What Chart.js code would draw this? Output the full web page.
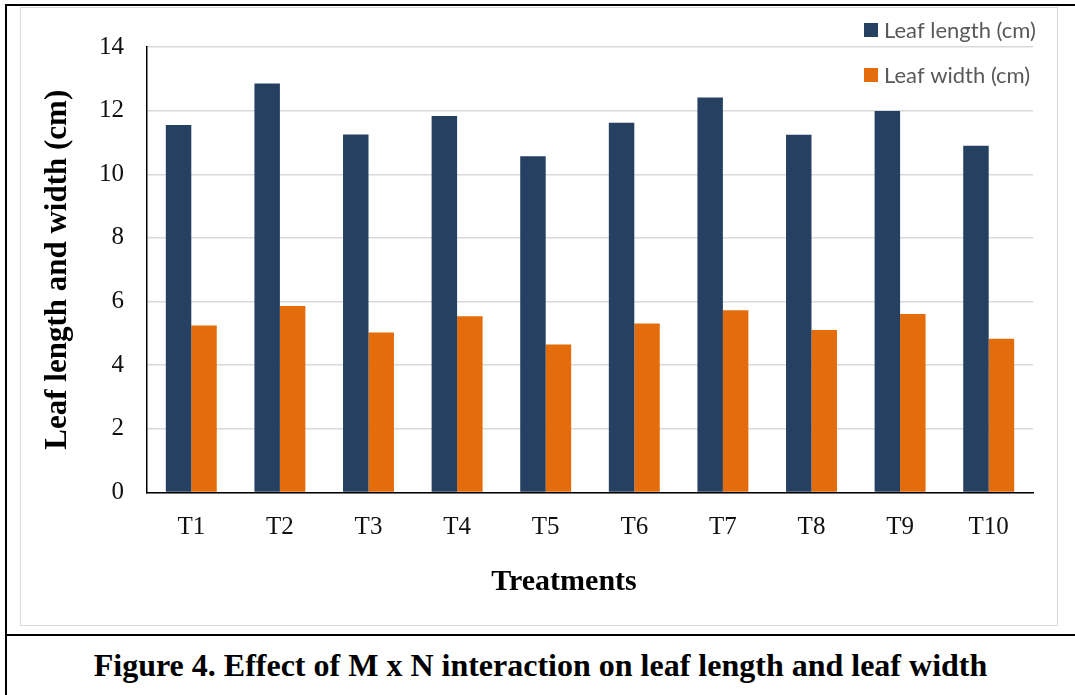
<!DOCTYPE html>
<html>
<head>
<meta charset="utf-8">
<script src="https://cdn.jsdelivr.net/npm/chart.js@4.4.1/dist/chart.umd.min.js"></script>
<style>
  html, body { margin: 0; padding: 0; background: #fff; }
  body { width: 1075px; height: 695px; position: relative; overflow: hidden; }
  #frame { position: absolute; left: 5px; top: 4px; width: 1080px; height: 720px;
           border-left: 2px solid #000; border-top: 2px solid #000; box-sizing: border-box; }
  #sep { position: absolute; left: 5px; top: 634px; width: 1080px; height: 0;
         border-top: 2px solid #000; }
  #box { position: absolute; left: 20px; top: 7px; width: 1038px; height: 619px;
         border: 1.5px solid #d9d9d9; box-sizing: border-box; }
  #wrap { position: absolute; left: 20px; top: 7px; width: 1038px; height: 619px; }
  #caption { position: absolute; left: 6px; width: 1069px; top: 636px; height: 59px;
             display: flex; align-items: center; justify-content: center;
             font: bold 32px "Liberation Serif", "Times New Roman", serif; color: #000; }
</style>
</head>
<body>
<div id="frame"></div>
<div id="box"></div>
<div id="wrap"><canvas id="c" width="1038" height="619"></canvas></div>
<div id="sep"></div>
<div id="caption">Figure 4. Effect of M x N interaction on leaf length and leaf width</div>
<script>
// Treatments on the x axis
const categories = ['T1', 'T2', 'T3', 'T4', 'T5', 'T6', 'T7', 'T8', 'T9', 'T10'];
// Mean leaf length and width per treatment (cm)
const leafLength = [11.55, 12.85, 11.25, 11.83, 10.57, 11.62, 12.41, 11.24, 11.99, 10.90];
const leafWidth = [5.25, 5.86, 5.03, 5.54, 4.65, 5.31, 5.73, 5.11, 5.61, 4.83];
const seriesNames = ['Leaf length (cm)', 'Leaf width (cm)'];
const yTicks = [0, 2, 4, 6, 8, 10, 12, 14];
const xTitle = 'Treatments';
const yTitle = 'Leaf length and width (cm)';

const serif = '"Liberation Serif", "Times New Roman", serif';

// Legend stacked in the top-right corner, drawn over the plot,
// plus the x-axis title placed under the tick labels
const annotations = {
  id: 'annotations',
  afterDraw(chart) {
    const ctx = chart.ctx;
    ctx.save();
    ctx.font = '22px Lato, "Open Sans", sans-serif';
    ctx.textBaseline = 'middle';
    ctx.textAlign = 'left';
    chart.data.datasets.forEach((ds, i) => {
      const y = 23 + i * 45;
      ctx.fillStyle = ds.backgroundColor;
      ctx.fillRect(844, y - 7, 14, 14);
      ctx.fillStyle = '#595959';
      ctx.fillText(ds.label, 864, y + 1);
    });
    ctx.font = 'bold 30px ' + serif;
    ctx.fillStyle = '#000';
    ctx.textAlign = 'center';
    ctx.fillText(xTitle, 544, 575);
    ctx.restore();
  }
};

new Chart(document.getElementById('c'), {
  type: 'bar',
  data: {
    labels: categories,
    datasets: [
      { label: seriesNames[0], data: leafLength, backgroundColor: '#264061' },
      { label: seriesNames[1], data: leafWidth, backgroundColor: '#E46C0A' }
    ]
  },
  options: {
    responsive: false,
    animation: false,
    devicePixelRatio: 1,
    layout: { padding: { left: 0, right: 25, top: 40, bottom: 0 } },
    datasets: { bar: { categoryPercentage: 0.575, barPercentage: 1.0, borderWidth: 0 } },
    plugins: { legend: { display: false }, tooltip: { enabled: false } },
    scales: {
      x: {
        grid: { display: false, drawTicks: false },
        border: { color: '#000', width: 1.5 },
        ticks: { color: '#111', font: { family: serif, size: 25 }, padding: 20 },
        afterFit(scale) { scale.height = 133.5; }
      },
      y: {
        min: 0, max: 14,
        afterBuildTicks(scale) { scale.ticks = yTicks.map(v => ({ value: v })); },
        grid: { color: '#d9d9d9', lineWidth: 1.5, drawTicks: false },
        border: { color: '#000', width: 1.5 },
        ticks: { color: '#111', font: { family: serif, size: 25 }, padding: 23 },
        title: { display: true, text: yTitle, color: '#000',
                 font: { family: serif, size: 31, weight: 'bold' }, padding: { top: 19, bottom: 0 } },
        afterFit(scale) { scale.width = 127; }
      }
    }
  },
  plugins: [annotations]
});
</script>
</body>
</html>
